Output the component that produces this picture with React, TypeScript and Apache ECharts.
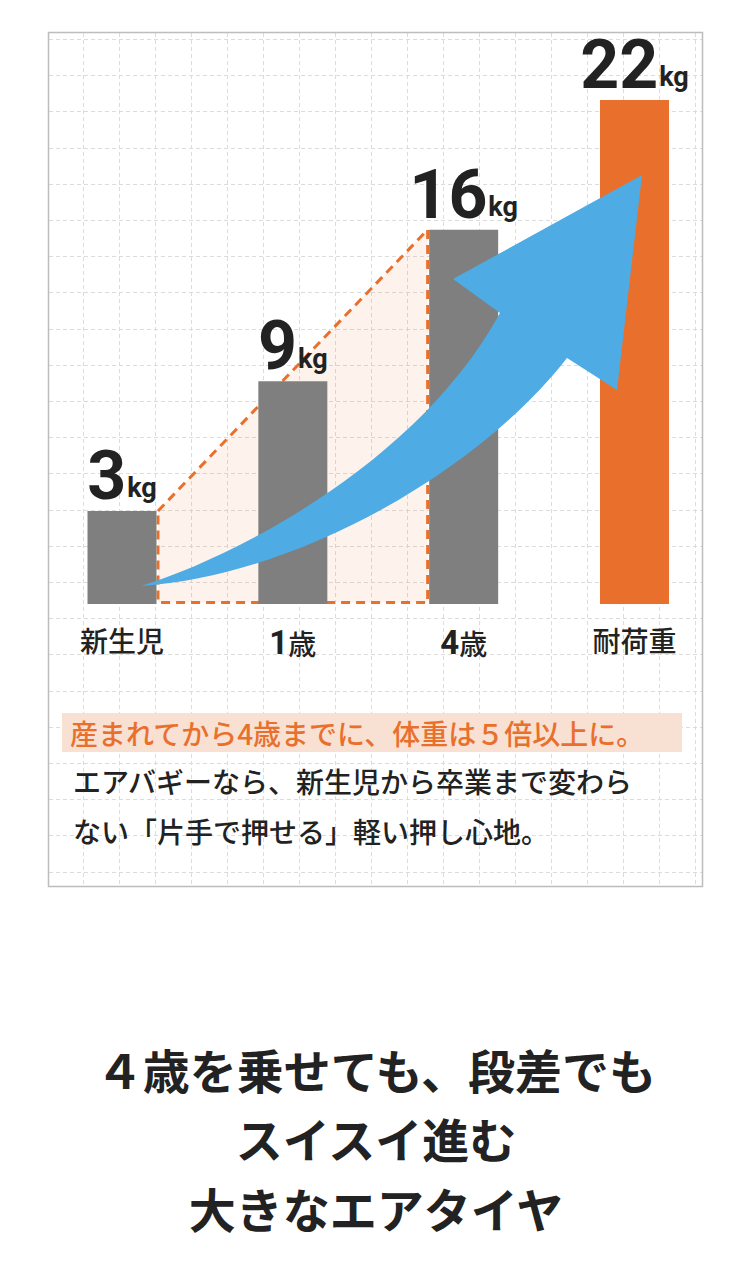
import React, { useEffect, useRef } from "react";
import * as echarts from "echarts";

// ---------- data ----------
const categories = ["新生児", "1歳", "4歳", "耐荷重"];
const weights = [3, 9, 16, 22];
const weightUnit = "kg";
const barColors = ["#7f7f7f", "#7f7f7f", "#7f7f7f", "#e9702c"];
const growthSpan = [0, 2]; // 新生児 → 4歳
const highlightText = "産まれてから4歳までに、体重は５倍以上に。";
const bodyLines = [
  "エアバギーなら、新生児から卒業まで変わら",
  "ない「片手で押せる」軽い押し心地。",
];
const headingLines = ["４歳を乗せても、段差でも", "スイスイ進む", "大きなエアタイヤ"];

// ---------- style ----------
const W = 750;
const H = 1272;
const ORANGE = "#e9702c";
const TEXT = "#222222";
const JP = '"Noto Sans CJK JP", "Noto Sans", sans-serif';
const NUM = 'Roboto, "Noto Sans", sans-serif';
const BAR_RATIO = 69 / 170.83;

const ARROW_D =
  "M141 586 C240 555 420 460 500 313 L453 279 L642 175 L617 390 L567 358 C480 470 300 575 141 586 Z";
let arrowRegistered = false;
function ensureArrow() {
  if (arrowRegistered) return;
  echarts.graphic.registerShape("growthArrow", echarts.graphic.extendPath(ARROW_D, {}));
  arrowRegistered = true;
}

function buildGraphic() {
  const els: any[] = [];
  // paper grid
  for (let k = 0; k < 18; k++) {
    const x = 83 + 36 * k + 0.5;
    els.push({
      type: "line",
      silent: true,
      z: -10,
      shape: { x1: x, y1: 33, x2: x, y2: 886 },
      style: { stroke: "#dcdcdc", lineWidth: 1, lineDash: [4, 3] },
    });
  }
  for (let k = 0; k < 24; k++) {
    const y = Math.round(39 + 36.2 * k) + 0.5;
    els.push({
      type: "line",
      silent: true,
      z: -10,
      shape: { x1: 49, y1: y, x2: 702, y2: y },
      style: { stroke: "#dcdcdc", lineWidth: 1, lineDash: [4, 3] },
    });
  }
  // frame
  els.push({
    type: "rect",
    silent: true,
    z: -5,
    shape: { x: 48.5, y: 32.5, width: 654, height: 854 },
    style: { fill: "none", stroke: "#bdbdbd", lineWidth: 1.5 },
  });
  // arrow
  els.push({ type: "growthArrow", x: 0, y: 0, z: 100, silent: true, style: { fill: "#4eabe3" } });
  // highlight
  els.push({
    type: "rect",
    silent: true,
    z: -1,
    shape: { x: 62, y: 713, width: 620, height: 39 },
    style: { fill: "#f8e0d3" },
  });
  els.push({
    type: "text",
    x: 70,
    y: 733,
    z: 5,
    style: {
      text: highlightText,
      fill: ORANGE,
      fontSize: 28,
      fontWeight: 500,
      fontFamily: JP,
      align: "left",
      verticalAlign: "middle",
      textAlign: "left",
      textVerticalAlign: "middle",
    },
  });
  bodyLines.forEach((t, i) => {
    els.push({
      type: "text",
      x: 73,
      y: 781 + i * 50,
      z: 5,
      style: {
        text: t,
        fill: TEXT,
        fontSize: 28,
        fontWeight: 500,
        fontFamily: JP,
        align: "left",
        verticalAlign: "middle",
        textAlign: "left",
        textVerticalAlign: "middle",
      },
    });
  });
  headingLines.forEach((t, i) => {
    els.push({
      type: "text",
      x: 376,
      y: 1068 + i * 69.5,
      z: 5,
      style: {
        text: t,
        fill: TEXT,
        fontSize: 47,
        fontWeight: "bold",
        fontFamily: JP,
        align: "center",
        verticalAlign: "middle",
        textAlign: "center",
        textVerticalAlign: "middle",
      },
    });
  });
  return els;
}

export default function App() {
  const ref = useRef<HTMLDivElement>(null);
  useEffect(() => {
    document.body.style.margin = "0";
    ensureArrow();
    const chart = echarts.init(ref.current!, undefined, { renderer: "svg" });
    const option: any = {
      animation: false,
      backgroundColor: "#ffffff",
      grid: { left: 36.6, right: 30.1, top: 35, bottom: 668 },
      xAxis: {
        type: "category",
        data: categories,
        axisLine: { show: false },
        axisTick: { show: false },
        splitLine: { show: false },
        axisLabel: {
          margin: 22,
          formatter: (val: string) => {
            const m = val.match(/^(\d+)(.*)$/);
            return m ? `{d|${m[1]}}{c|${m[2]}}` : `{c|${val}}`;
          },
          rich: {
            c: { fontSize: 28, fontFamily: JP, fontWeight: 500, color: TEXT },
            d: { fontSize: 33, fontFamily: NUM, fontWeight: "bold", color: TEXT },
          },
        },
      },
      yAxis: { type: "value", min: -1.3, max: 25, show: false },
      series: [
        {
          type: "custom",
          name: "growth",
          z: 1,
          silent: true,
          data: [[growthSpan[0], weights[growthSpan[0]], growthSpan[1], weights[growthSpan[1]]]],
          renderItem: (params: any, api: any) => {
            const a = api.coord([api.value(0), api.value(1)]);
            const b = api.coord([api.value(2), api.value(3)]);
            const cs = params.coordSys;
            const by = cs.y + cs.height;
            const half = (api.size([1, 0])[0] * BAR_RATIO) / 2;
            const x1 = a[0] + half + 1.5;
            const x2 = b[0] - half - 1.5;
            const yb = by - 1.5;
            return {
              type: "polygon",
              shape: { points: [[x1, a[1]], [x2, b[1]], [x2, yb], [x1, yb]] },
              style: {
                fill: "rgba(233,112,44,0.09)",
                stroke: ORANGE,
                lineWidth: 3,
                lineDash: [9, 6],
              },
            };
          },
        },
        {
          type: "custom",
          name: "weight",
          z: 2,
          data: weights.map((v, i) => [i, v]),
          renderItem: (params: any, api: any) => {
            const i = api.value(0);
            const v = api.value(1);
            const p = api.coord([i, v]);
            const cs = params.coordSys;
            const by = cs.y + cs.height;
            const bw = api.size([1, 0])[0] * BAR_RATIO;
            return {
              type: "group",
              children: [
                {
                  type: "rect",
                  shape: { x: p[0] - bw / 2, y: p[1], width: bw, height: by - p[1] },
                  style: { fill: barColors[i] },
                },
                {
                  type: "text",
                  x: p[0],
                  y: p[1] - 1,
                  style: {
                    text: `{n|${v}}{u|${weightUnit}}`,
                    align: "center",
                    verticalAlign: "bottom",
                    fill: TEXT,
                    rich: {
                      n: {
                        fontSize: 68,
                        fontFamily: NUM,
                        fontWeight: "bold",
                        fill: TEXT,
                        verticalAlign: "bottom",
                      },
                      u: {
                        fontSize: 27,
                        fontFamily: NUM,
                        fontWeight: "bold",
                        fill: TEXT,
                        verticalAlign: "bottom",
                        padding: [0, 0, 8, 1],
                      },
                    },
                  },
                },
              ],
            };
          },
        },
      ],
      graphic: buildGraphic(),
    };
    chart.setOption(option);
    return () => chart.dispose();
  }, []);
  return <div ref={ref} style={{ width: W, height: H }} />;
}
